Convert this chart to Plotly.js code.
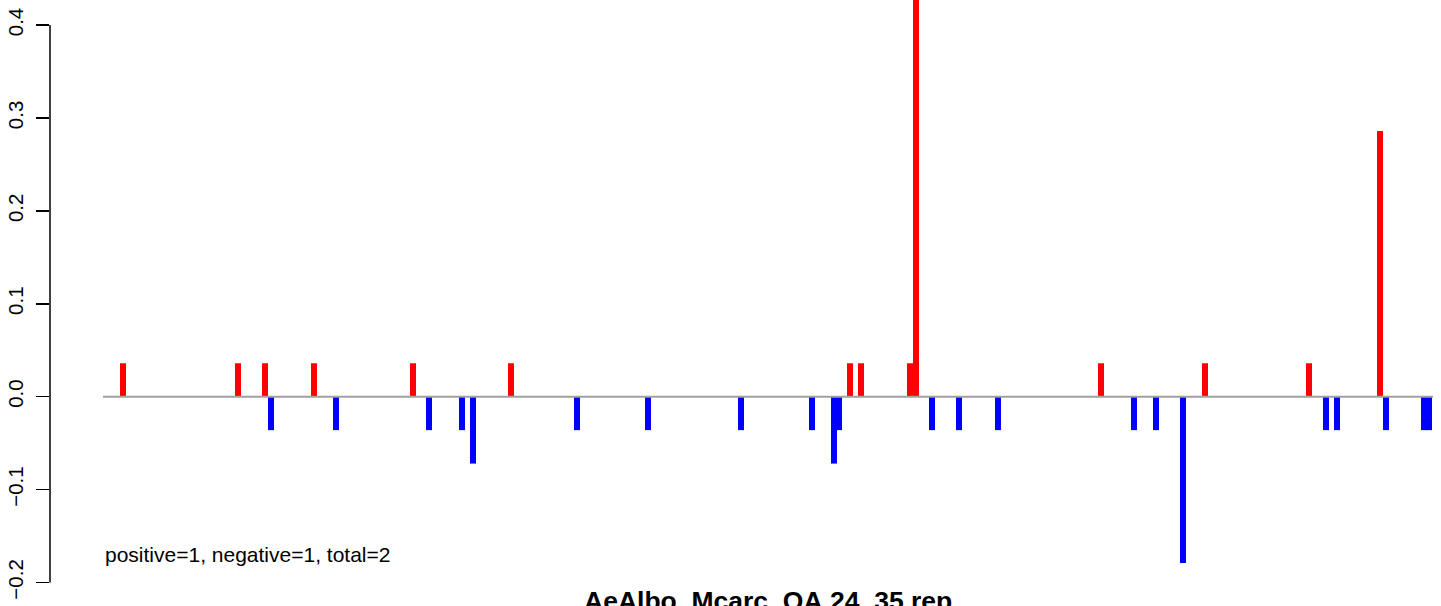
<!DOCTYPE html>
<html><head><meta charset="utf-8">
<script src="https://cdn.plot.ly/plotly-3.0.1.min.js"></script>
<style>html,body{margin:0;padding:0;background:#fff;overflow:hidden;} #chart{width:1441px;height:606px;}</style>
</head><body><div id="chart"></div>
<script>
const chartTitle = "AeAlbo_Mcarc_OA.24_35.rep";
const summaryText = "positive=1, negative=1, total=2";

// positive scores (red)
const posX = [20, 135, 162, 211, 310, 408, 747, 758, 807, 813, 998, 1102, 1206, 1277];
const posY = [0.036, 0.036, 0.036, 0.036, 0.036, 0.036, 0.036, 0.036, 0.036, 0.5, 0.036, 0.036, 0.036, 0.286];

// negative scores (blue)
const negX = [168, 233, 326, 359, 370, 474, 545, 638, 709, 731, 736, 829, 856, 895, 1031, 1053, 1080, 1223, 1234, 1283, 1321, 1326];
const negY = [-0.036, -0.036, -0.036, -0.036, -0.072, -0.036, -0.036, -0.036, -0.036, -0.072, -0.036, -0.036, -0.036, -0.036, -0.036, -0.036, -0.179, -0.036, -0.036, -0.036, -0.036, -0.036];

// extent of the baseline
const baseX = [0, 1330];
const baseY = [0, 0];

// y axis ticks
const yTickVals = [-0.2, -0.1, 0.0, 0.1, 0.2, 0.3, 0.4];
const yTickText = ["\u22120.2", "\u22120.1", "0.0", "0.1", "0.2", "0.3", "0.4"];

const FONT = "'Liberation Sans', Arial, Helvetica, sans-serif";

const traces = [
  {type: 'scatter', mode: 'lines', x: baseX, y: baseY,
   line: {color: '#a0a0a0', width: 2}, hoverinfo: 'skip', showlegend: false},
  {type: 'bar', x: posX, y: posY, width: 6, marker: {color: '#ff0000', line: {width: 0}}, showlegend: false},
  {type: 'bar', x: negX, y: negY, width: 6, marker: {color: '#0000ff', line: {width: 0}}, showlegend: false}
];

const layout = {
  width: 1441, height: 606,
  margin: {l: 50, r: 0, t: 0, b: 0, pad: 0},
  paper_bgcolor: '#ffffff', plot_bgcolor: '#ffffff',
  barmode: 'overlay',
  showlegend: false,
  font: {family: FONT, size: 20, color: '#000'},
  xaxis: {visible: false, range: [-53, 1338], fixedrange: true},
  yaxis: {
    range: [-0.2253, 0.4270], fixedrange: true,
    showgrid: false, zeroline: false, showline: false,
    tickmode: 'array', tickvals: yTickVals, ticktext: yTickText,
    ticks: 'outside', ticklen: 13, tickwidth: 1.5, tickcolor: '#000',
    tickangle: -90, ticklabelstandoff: 5,
    tickfont: {family: FONT, size: 20.5, color: '#000'},
    automargin: false
  },
  shapes: [
    {type: 'line', xref: 'paper', yref: 'y', x0: 0, x1: 0,
     y0: yTickVals[0], y1: yTickVals[yTickVals.length - 1],
     line: {color: '#000', width: 1.5}}
  ],
  annotations: [
    {text: summaryText, xref: 'x', yref: 'y', x: baseX[0], y: -0.170,
     xanchor: 'left', yanchor: 'middle', showarrow: false,
     font: {family: FONT, size: 21, color: '#000'}},
    {text: '<b>' + chartTitle + '</b>', xref: 'paper', yref: 'paper',
     x: (768 - 50) / 1391, y: (606 - 584) / 606, xanchor: 'center', yanchor: 'top', showarrow: false,
     font: {family: FONT, size: 26.5, color: '#000'}}
  ]
};

Plotly.newPlot('chart', traces, layout, {displayModeBar: false, staticPlot: true});
</script>
</body></html>
